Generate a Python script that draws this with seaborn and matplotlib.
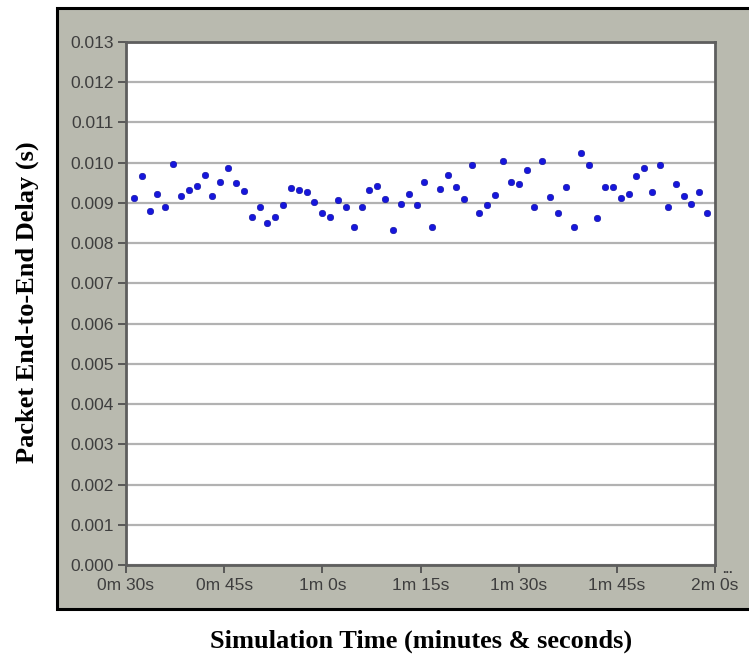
import matplotlib
matplotlib.use("Agg")
import matplotlib.pyplot as plt
from matplotlib.patches import Rectangle
from matplotlib.ticker import FixedLocator, FixedFormatter, FormatStrFormatter
import seaborn as sns
import pandas as pd

# Simulation time of each sample (seconds)
sim_time_s = [
    31.2, 32.4, 33.6, 34.8, 36.0, 37.2, 38.4, 39.6, 40.8, 42.0,
    43.2, 44.4, 45.6, 46.8, 48.0, 49.2, 50.4, 51.6, 52.8, 54.0,
    55.2, 56.4, 57.6, 58.8, 60.0, 61.2, 62.4, 63.6, 64.8, 66.0,
    67.2, 68.4, 69.6, 70.8, 72.0, 73.2, 74.4, 75.6, 76.8, 78.0,
    79.2, 80.4, 81.6, 82.8, 84.0, 85.2, 86.4, 87.6, 88.8, 90.0,
    91.2, 92.4, 93.6, 94.8, 96.0, 97.2, 98.4, 99.6, 100.8, 102.0,
    103.2, 104.4, 105.6, 106.8, 108.0, 109.2, 110.4, 111.6, 112.8, 114.0,
    115.2, 116.4, 117.6, 118.8,
]

# Packet end-to-end delay (seconds)
delay_s = [
    0.00913, 0.00967, 0.00880, 0.00923, 0.00889, 0.00996, 0.00918, 0.00931, 0.00941, 0.00970,
    0.00918, 0.00952, 0.00987, 0.00948, 0.00930, 0.00866, 0.00889, 0.00851, 0.00865, 0.00895,
    0.00936, 0.00932, 0.00928, 0.00901, 0.00875, 0.00865, 0.00906, 0.00889, 0.00841, 0.00889,
    0.00931, 0.00942, 0.00909, 0.00832, 0.00898, 0.00923, 0.00894, 0.00952, 0.00841, 0.00935,
    0.00970, 0.00940, 0.00909, 0.00995, 0.00875, 0.00894, 0.00919, 0.01004, 0.00952, 0.00947,
    0.00982, 0.00889, 0.01004, 0.00914, 0.00875, 0.00940, 0.00841, 0.01024, 0.00995, 0.00862,
    0.00940, 0.00940, 0.00913, 0.00923, 0.00966, 0.00986, 0.00927, 0.00995, 0.00889, 0.00947,
    0.00918, 0.00897, 0.00927, 0.00875,
]

x_tick_seconds = [30, 45, 60, 75, 90, 105, 120]
x_tick_labels = ["0m 30s", "0m 45s", "1m 0s", "1m 15s", "1m 30s", "1m 45s", "2m 0s"]
y_ticks = [0.000, 0.001, 0.002, 0.003, 0.004, 0.005, 0.006,
           0.007, 0.008, 0.009, 0.010, 0.011, 0.012, 0.013]

x_title = "Simulation Time (minutes & seconds)"
y_title = "Packet End-to-End Delay (s)"

df = pd.DataFrame({"time": sim_time_s, "delay": delay_s})

sns.set_style("white")
plt.rcParams["font.family"] = ["Liberation Sans", "DejaVu Sans"]

W, H = 749, 660
fig = plt.figure(figsize=(W / 100, H / 100), dpi=100)
fig.patch.set_facecolor("white")

# Gray panel behind the plot area
panel_color = "#b9baaf"
fig.patches.append(Rectangle((57 / W, 1 - 609 / H), 0.98, (609 - 8) / H,
                             transform=fig.transFigure, facecolor=panel_color,
                             edgecolor="black", linewidth=2.2, zorder=-5))

left, right, top, bottom = 126, 715, 41.7, 565.3
ax = fig.add_axes([left / W, 1 - bottom / H, (right - left) / W, (bottom - top) / H])
ax.set_zorder(2)
ax.set_facecolor("white")

sns.scatterplot(data=df, x="time", y="delay", ax=ax, s=22, color="#1616dc",
                edgecolor="#0c0c9a", linewidth=0.4, zorder=3)

ax.set_xlim(30, 120)
ax.set_ylim(0.0, 0.013)
ax.xaxis.set_major_locator(FixedLocator(x_tick_seconds))
ax.xaxis.set_major_formatter(FixedFormatter(x_tick_labels))
ax.yaxis.set_major_locator(FixedLocator(y_ticks))
ax.yaxis.set_major_formatter(FormatStrFormatter("%.3f"))

ax.grid(axis="y", color="#b2b2b2", linewidth=1.6, zorder=1)
ax.grid(axis="x", visible=False)
ax.set_axisbelow(True)

for side, sp in ax.spines.items():
    sp.set_visible(True)
    sp.set_color("#5e5e5e")
    sp.set_linewidth(2.0)

ax.tick_params(axis="both", which="major", direction="out", length=6,
               width=1.3, color="#505050", labelcolor="#3e3e3e", labelsize=12.5)
ax.tick_params(axis="y", pad=3)
ax.tick_params(axis="x", pad=3)
ax.tick_params(bottom=True, left=True)
for lbl in ax.get_xticklabels() + ax.get_yticklabels():
    lbl.set_fontweight("medium")

ax.set_xlabel("")
ax.set_ylabel("")

fig.text(727 / W, 1 - 570 / H, "...", fontsize=9, fontweight="bold",
         color="#3e3e3e", ha="center", va="center", zorder=3)

fig.text(421 / W, 1 - 641 / H, x_title, family=["Liberation Serif", "DejaVu Serif"],
         fontsize=19, fontweight="bold", ha="center", va="center", color="black")
fig.text(27 / W, 1 - 302 / H, y_title, family=["Liberation Serif", "DejaVu Serif"],
         fontsize=19, fontweight="bold", ha="center", va="center", rotation=90,
         color="black")

fig.savefig("out.png", dpi=100)
